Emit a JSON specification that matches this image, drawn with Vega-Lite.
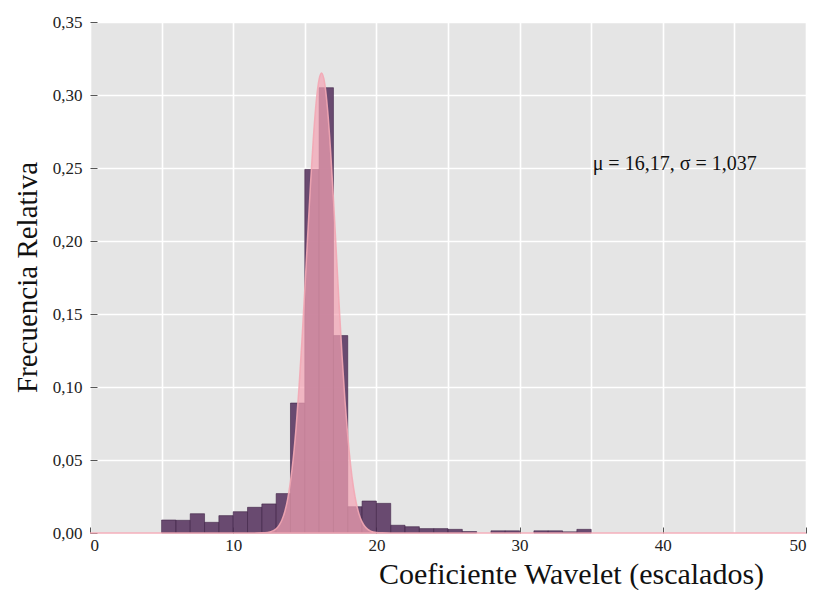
{
  "$schema": "https://vega.github.io/schema/vega-lite/v6.json",
  "width": 716,
  "height": 511,
  "autosize": "none",
  "padding": {"left": 90, "top": 22, "right": 14, "bottom": 57},
  "background": "white",
  "config": {
    "view": {"fill": "#e5e5e5", "stroke": null},
    "font": "Liberation Serif"
  },
  "datasets": {
    "bars": [
      {"x0": 5, "x1": 6, "f": 0.0089},
      {"x0": 6, "x1": 7, "f": 0.0087},
      {"x0": 7, "x1": 8, "f": 0.0132},
      {"x0": 8, "x1": 9, "f": 0.0073},
      {"x0": 9, "x1": 10, "f": 0.0119},
      {"x0": 10, "x1": 11, "f": 0.0146},
      {"x0": 11, "x1": 12, "f": 0.0176},
      {"x0": 12, "x1": 13, "f": 0.0199},
      {"x0": 13, "x1": 14, "f": 0.027},
      {"x0": 14, "x1": 15, "f": 0.089},
      {"x0": 15, "x1": 16, "f": 0.249},
      {"x0": 16, "x1": 17, "f": 0.305},
      {"x0": 17, "x1": 18, "f": 0.1352},
      {"x0": 18, "x1": 19, "f": 0.018},
      {"x0": 19, "x1": 20, "f": 0.0219},
      {"x0": 20, "x1": 21, "f": 0.0203},
      {"x0": 21, "x1": 22, "f": 0.0053},
      {"x0": 22, "x1": 23, "f": 0.0043},
      {"x0": 23, "x1": 24, "f": 0.003},
      {"x0": 24, "x1": 25, "f": 0.003},
      {"x0": 25, "x1": 26, "f": 0.0025},
      {"x0": 26, "x1": 27, "f": 0.001},
      {"x0": 28, "x1": 29, "f": 0.0015},
      {"x0": 29, "x1": 30, "f": 0.0015},
      {"x0": 31, "x1": 32, "f": 0.0015},
      {"x0": 32, "x1": 33, "f": 0.0015},
      {"x0": 33, "x1": 34, "f": 0.0008},
      {"x0": 34, "x1": 35, "f": 0.0025}
    ],
    "curve": [
      {"x": 0, "y": 0},
      {"x": 5, "y": 0},
      {"x": 10, "y": 0},
      {"x": 11, "y": 0.000001},
      {"x": 12, "y": 0.0001},
      {"x": 12.4, "y": 0.00043},
      {"x": 12.8, "y": 0.0016},
      {"x": 13.0, "y": 0.0029},
      {"x": 13.2, "y": 0.0052},
      {"x": 13.4, "y": 0.0089},
      {"x": 13.6, "y": 0.0146},
      {"x": 13.8, "y": 0.0231},
      {"x": 14.0, "y": 0.0353},
      {"x": 14.2, "y": 0.0518},
      {"x": 14.4, "y": 0.0734},
      {"x": 14.6, "y": 0.1001},
      {"x": 14.8, "y": 0.1316},
      {"x": 15.0, "y": 0.1667},
      {"x": 15.2, "y": 0.2034},
      {"x": 15.4, "y": 0.2391},
      {"x": 15.6, "y": 0.2708},
      {"x": 15.8, "y": 0.2956},
      {"x": 16.0, "y": 0.3108},
      {"x": 16.17, "y": 0.315},
      {"x": 16.4, "y": 0.3073},
      {"x": 16.6, "y": 0.289},
      {"x": 16.8, "y": 0.2619},
      {"x": 17.0, "y": 0.2287},
      {"x": 17.2, "y": 0.1923},
      {"x": 17.4, "y": 0.1559},
      {"x": 17.6, "y": 0.1217},
      {"x": 17.8, "y": 0.0916},
      {"x": 18.0, "y": 0.0664},
      {"x": 18.2, "y": 0.0464},
      {"x": 18.4, "y": 0.0312},
      {"x": 18.6, "y": 0.0202},
      {"x": 18.8, "y": 0.0126},
      {"x": 19.0, "y": 0.0076},
      {"x": 19.2, "y": 0.0044},
      {"x": 19.4, "y": 0.0025},
      {"x": 19.6, "y": 0.0013},
      {"x": 20.0, "y": 0.0003},
      {"x": 20.4, "y": 0.0001},
      {"x": 21, "y": 0},
      {"x": 30, "y": 0},
      {"x": 40, "y": 0},
      {"x": 50, "y": 0}
    ],
    "note": [{"x": 35.1, "y": 0.253, "label": "μ = 16,17,  σ = 1,037"}]
  },
  "layer": [
    {
      "data": {"name": "bars"},
      "mark": {"type": "rect", "fill": "#5e3d66", "fillOpacity": 0.92, "stroke": "#3f2447", "strokeWidth": 0.6},
      "encoding": {
        "x": {
          "field": "x0", "type": "quantitative",
          "scale": {"domain": [0, 50], "nice": false, "zero": false},
          "axis": {
            "values": [0, 5, 10, 15, 20, 25, 30, 35, 40, 45, 50],
            "labelExpr": "datum.value % 10 === 0 ? datum.label : ''",
            "tickOpacity": {"condition": {"test": "datum.value % 10 !== 0", "value": 0}, "value": 1},
            "grid": true, "gridColor": "white", "gridWidth": 1.6,
            "domain": false,
            "tickSize": -6, "tickColor": "#555", "tickWidth": 1,
            "labelFont": "Liberation Serif", "labelFontSize": 17, "labelColor": "#222", "labelPadding": 10,
            "title": "Coeficiente Wavelet (escalados)",
            "titleFont": "Liberation Serif", "titleFontSize": 30, "titleFontWeight": "normal", "titleColor": "#111",
            "titleX": 481, "titleY": 50, "titleAlign": "center", "titleBaseline": "alphabetic"
          }
        },
        "x2": {"field": "x1"},
        "y": {
          "field": "f", "type": "quantitative",
          "scale": {"domain": [0, 0.35], "nice": false},
          "axis": {
            "values": [0, 0.025, 0.05, 0.075, 0.1, 0.125, 0.15, 0.175, 0.2, 0.225, 0.25, 0.275, 0.3, 0.325, 0.35],
            "labelExpr": "abs(datum.value*20 - round(datum.value*20)) < 0.001 ? replace(format(datum.value, '.2f'), '.', ',') : ''",
            "tickOpacity": {"condition": {"test": "abs(datum.value*20 - round(datum.value*20)) > 0.001", "value": 0}, "value": 1},
            "grid": true, "gridColor": "white", "gridWidth": 1.6,
            "domain": false,
            "tickSize": -7, "tickColor": "#555", "tickWidth": 1,
            "labelFont": "Liberation Serif", "labelFontSize": 17, "labelColor": "#222", "labelPadding": 15,
            "title": "Frecuencia Relativa",
            "titleFont": "Liberation Serif", "titleFontSize": 29, "titleFontWeight": "normal", "titleColor": "#111",
            "titleX": -54, "titleY": 255, "titleAlign": "center", "titleAngle": -90, "titleBaseline": "alphabetic"
          }
        },
        "y2": {"datum": 0}
      }
    },
    {
      "data": {"name": "curve"},
      "mark": {"type": "area", "interpolate": "monotone", "fill": "#f5a3b3", "fillOpacity": 0.7, "stroke": "#f3a7b4", "strokeWidth": 1.5, "strokeOpacity": 0.9},
      "encoding": {
        "x": {"field": "x", "type": "quantitative"},
        "y": {"field": "y", "type": "quantitative"}
      }
    },
    {
      "data": {"name": "note"},
      "mark": {"type": "text", "align": "left", "baseline": "middle", "font": "Liberation Serif", "fontSize": 20, "color": "#111"},
      "encoding": {
        "x": {"field": "x", "type": "quantitative"},
        "y": {"field": "y", "type": "quantitative"},
        "text": {"field": "label"}
      }
    }
  ]
}
